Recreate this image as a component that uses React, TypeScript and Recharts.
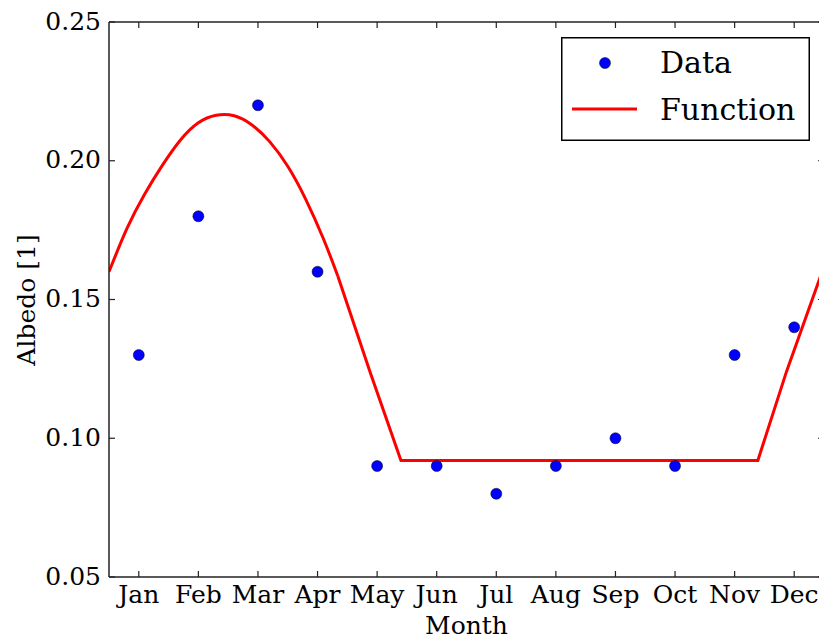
import { ComposedChart, Legend, Line, Scatter, XAxis, YAxis } from 'recharts';

const MONTHS = ['Jan', 'Feb', 'Mar', 'Apr', 'May', 'Jun', 'Jul', 'Aug', 'Sep', 'Oct', 'Nov', 'Dec'];
const MONTH_NUM = [1, 2, 3, 4, 5, 6, 7, 8, 9, 10, 11, 12];
const ALBEDO = [0.13, 0.18, 0.22, 0.16, 0.09, 0.09, 0.08, 0.09, 0.1, 0.09, 0.13, 0.14];

// fitted function (smooth part, then straight part)
const CURVE_X = [0.5, 0.8, 1.1, 1.4, 1.7, 2.0, 2.3, 2.6, 2.9, 3.2, 3.5, 3.8, 4.1, 4.34];
const CURVE_Y = [0.16, 0.1755, 0.188, 0.1985, 0.2075, 0.2137, 0.2164, 0.2162, 0.2129, 0.2068, 0.198, 0.1862, 0.1718, 0.1585];
const LINE_X = [4.34, 4.88, 5.4, 11.39, 11.87, 12.41, 12.5];
const LINE_Y = [0.1585, 0.124, 0.092, 0.092, 0.124, 0.1565, 0.162];

const Y_TICKS = [0.05, 0.1, 0.15, 0.2, 0.25];

const dataPoints = MONTH_NUM.map((x, i) => ({ x, y: ALBEDO[i] }));
const curvePoints = CURVE_X.map((x, i) => ({ x, y: CURVE_Y[i] }));
const linePoints = LINE_X.map((x, i) => ({ x, y: LINE_Y[i] }));

const FONT = 'DejaVu Serif';
const AXIS = '#222';
const FS = 25;

function LegendBox() {
  return (
    <svg width={249} height={104} style={{ display: 'block' }}>
      <rect x={0.75} y={0.75} width={247.5} height={102.5} fill="#fff" stroke="#000" strokeWidth={1.5} />
      <circle cx={44} cy={26} r={5.5} fill="#0000ff" stroke="#000" strokeWidth={0.5} />
      <text x={99} y={36} fontSize={30} fontFamily={FONT} fill="#000">Data</text>
      <line x1={11} x2={76} y1={72} y2={72} stroke="#ff0000" strokeWidth={3} />
      <text x={99} y={83} fontSize={30} fontFamily={FONT} fill="#000">Function</text>
    </svg>
  );
}

// matplotlib-classic style: ticks point into the plot
const BottomTick = ({ x, y, payload }: any) => (
  <g>
    <line x1={x} x2={x} y1={y} y2={y - 6} stroke={AXIS} strokeWidth={1.2} />
    <text x={x} y={y + 26} textAnchor="middle" fontSize={FS} fontFamily={FONT} fill="#000">
      {MONTHS[payload.value - 1]}
    </text>
  </g>
);
const TopTick = ({ x, y }: any) => <line x1={x} x2={x} y1={y} y2={y + 6} stroke={AXIS} strokeWidth={1.2} />;
const LeftTick = ({ x, y, payload }: any) => (
  <g>
    <line x1={x} x2={x + 6} y1={y} y2={y} stroke={AXIS} strokeWidth={1.2} />
    <text x={x - 8} y={y + 7.5} textAnchor="end" fontSize={FS} fontFamily={FONT} fill="#000">
      {payload.value.toFixed(2)}
    </text>
  </g>
);
const RightTick = ({ x, y }: any) => <line x1={x} x2={x - 6} y1={y} y2={y} stroke={AXIS} strokeWidth={1.2} />;

export default function App() {
  return (
    <div style={{ position: 'absolute', left: 0, top: 0, width: 819, height: 640, overflow: 'hidden', background: '#fff', fontFamily: FONT }}>
      <ComposedChart width={840} height={640} margin={{ top: 21, right: 15, left: 49, bottom: 33 }}>
        <XAxis
          xAxisId="b"
          dataKey="x"
          type="number"
          domain={[0.5, 12.5]}
          ticks={MONTH_NUM}
          height={30}
          tick={BottomTick}
          tickLine={false}
          tickSize={0}
          tickMargin={0}
          stroke={AXIS}
          strokeWidth={1.5}
          interval={0}
          allowDataOverflow
          label={{
            content: ({ viewBox }: any) => (
              <text x={viewBox.x + viewBox.width / 2} y={634} textAnchor="middle" fontSize={FS} fontFamily={FONT} fill="#000">Month</text>
            ),
          }}
        />
        <XAxis
          xAxisId="t"
          dataKey="x"
          orientation="top"
          type="number"
          domain={[0.5, 12.5]}
          ticks={MONTH_NUM}
          height={1}
          tick={TopTick}
          tickLine={false}
          tickSize={0}
          tickMargin={0}
          stroke={AXIS}
          strokeWidth={1.5}
          interval={0}
          allowDataOverflow
        />
        <YAxis
          yAxisId="l"
          type="number"
          domain={[0.05, 0.25]}
          ticks={Y_TICKS}
          width={60}
          tick={LeftTick}
          tickLine={false}
          tickSize={0}
          tickMargin={0}
          stroke={AXIS}
          strokeWidth={1.5}
          interval={0}
          allowDataOverflow
          label={{
            content: () => (
              <text x={35} y={300} transform="rotate(-90, 35, 300)" textAnchor="middle" fontSize={FS} fontFamily={FONT} fill="#000">Albedo [1]</text>
            ),
          }}
        />
        <YAxis
          yAxisId="r"
          orientation="right"
          type="number"
          domain={[0.05, 0.25]}
          ticks={Y_TICKS}
          width={1}
          tick={RightTick}
          tickLine={false}
          tickSize={0}
          tickMargin={0}
          stroke={AXIS}
          strokeWidth={1.5}
          interval={0}
          allowDataOverflow
        />
        <Line
          xAxisId="t"
          yAxisId="l"
          data={curvePoints}
          dataKey="y"
          type="natural"
          stroke="#ff0000"
          strokeWidth={3}
          dot={false}
          activeDot={false}
          isAnimationActive={false}
        />
        <Line
          xAxisId="t"
          yAxisId="l"
          data={linePoints}
          dataKey="y"
          type="linear"
          stroke="#ff0000"
          strokeWidth={3}
          dot={false}
          activeDot={false}
          isAnimationActive={false}
        />
        <Scatter
          xAxisId="b"
          yAxisId="r"
          data={dataPoints}
          dataKey="y"
          isAnimationActive={false}
          shape={(p: any) => <circle cx={p.cx} cy={p.cy} r={5.5} fill="#0000ff" stroke="#000" strokeWidth={0.5} />}
        />
        <Legend
          layout="vertical"
          align="center"
          verticalAlign="middle"
          wrapperStyle={{ left: 561, top: 37, width: 249 }}
          content={() => <LegendBox />}
        />
      </ComposedChart>
    </div>
  );
}
